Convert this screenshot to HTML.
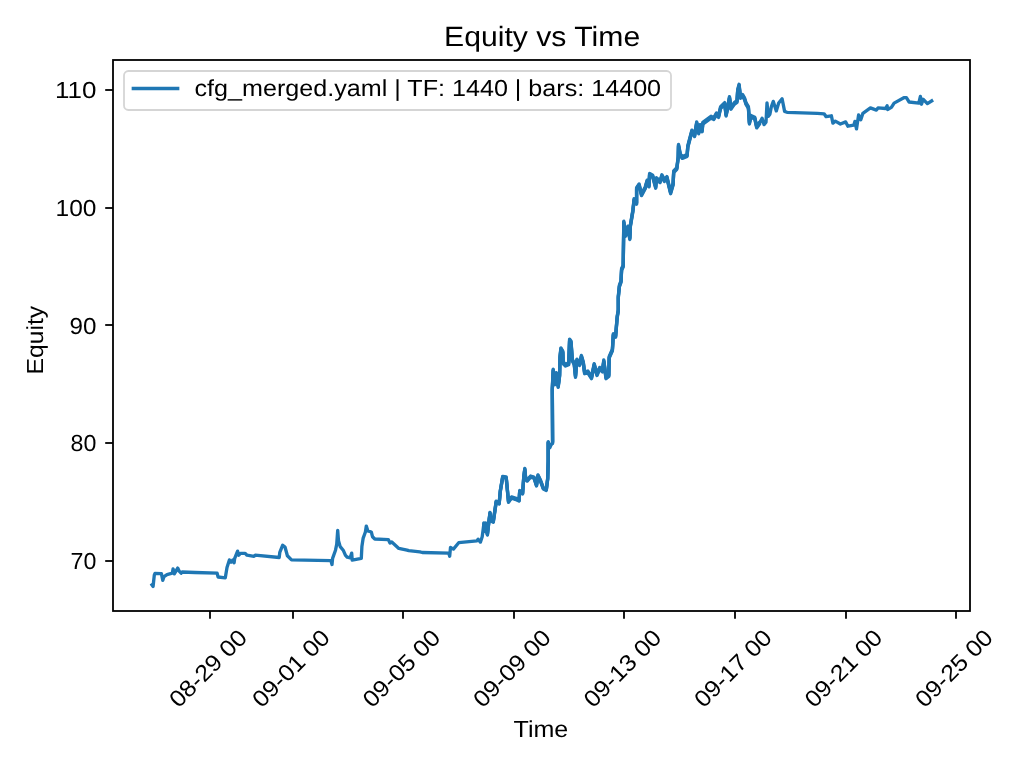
<!DOCTYPE html>
<html><head><meta charset="utf-8"><style>
html,body{margin:0;padding:0;background:#fff;width:1024px;height:768px;overflow:hidden}
svg{display:block}
text{font-family:"Liberation Sans", sans-serif;fill:#000;text-rendering:geometricPrecision}
svg{will-change:transform}
</style></head><body>
<svg width="1024" height="768" viewBox="0 0 1024 768">
<rect width="1024" height="768" fill="#fff"/>
<rect x="113" y="60" width="857" height="551" fill="none" stroke="#000" stroke-width="1.8" stroke-linejoin="miter"/>
<line x1="105.2" y1="90" x2="113" y2="90" stroke="#000" stroke-width="1.8"/>
<text x="96.4" y="98.1" text-anchor="end" font-size="23.2" textLength="41.4" lengthAdjust="spacingAndGlyphs">110</text>
<line x1="105.2" y1="208" x2="113" y2="208" stroke="#000" stroke-width="1.8"/>
<text x="96.4" y="215.9" text-anchor="end" font-size="23.2" textLength="40.85" lengthAdjust="spacingAndGlyphs">100</text>
<line x1="105.2" y1="325" x2="113" y2="325" stroke="#000" stroke-width="1.8"/>
<text x="96.4" y="333.6" text-anchor="end" font-size="23.2" textLength="26.9" lengthAdjust="spacingAndGlyphs">90</text>
<line x1="105.2" y1="443" x2="113" y2="443" stroke="#000" stroke-width="1.8"/>
<text x="96.4" y="451.40000000000003" text-anchor="end" font-size="23.2" textLength="25.8" lengthAdjust="spacingAndGlyphs">80</text>
<line x1="105.2" y1="561" x2="113" y2="561" stroke="#000" stroke-width="1.8"/>
<text x="96.4" y="569.1" text-anchor="end" font-size="23.2" textLength="25.8" lengthAdjust="spacingAndGlyphs">70</text>
<line x1="210" y1="611" x2="210" y2="618.8" stroke="#000" stroke-width="1.8"/>
<text x="0" y="0" text-anchor="middle" font-size="23.2" textLength="98.6" lengthAdjust="spacingAndGlyphs" transform="translate(207.90 668.25) rotate(-45) translate(0 8.1)">08-29 00</text>
<line x1="293" y1="611" x2="293" y2="618.8" stroke="#000" stroke-width="1.8"/>
<text x="0" y="0" text-anchor="middle" font-size="23.2" textLength="98.6" lengthAdjust="spacingAndGlyphs" transform="translate(290.80 668.25) rotate(-45) translate(0 8.1)">09-01 00</text>
<line x1="403" y1="611" x2="403" y2="618.8" stroke="#000" stroke-width="1.8"/>
<text x="0" y="0" text-anchor="middle" font-size="23.2" textLength="98.6" lengthAdjust="spacingAndGlyphs" transform="translate(401.30 668.25) rotate(-45) translate(0 8.1)">09-05 00</text>
<line x1="514" y1="611" x2="514" y2="618.8" stroke="#000" stroke-width="1.8"/>
<text x="0" y="0" text-anchor="middle" font-size="23.2" textLength="98.6" lengthAdjust="spacingAndGlyphs" transform="translate(511.80 668.25) rotate(-45) translate(0 8.1)">09-09 00</text>
<line x1="624" y1="611" x2="624" y2="618.8" stroke="#000" stroke-width="1.8"/>
<text x="0" y="0" text-anchor="middle" font-size="23.2" textLength="98.6" lengthAdjust="spacingAndGlyphs" transform="translate(622.30 668.25) rotate(-45) translate(0 8.1)">09-13 00</text>
<line x1="735" y1="611" x2="735" y2="618.8" stroke="#000" stroke-width="1.8"/>
<text x="0" y="0" text-anchor="middle" font-size="23.2" textLength="98.6" lengthAdjust="spacingAndGlyphs" transform="translate(732.80 668.25) rotate(-45) translate(0 8.1)">09-17 00</text>
<line x1="846" y1="611" x2="846" y2="618.8" stroke="#000" stroke-width="1.8"/>
<text x="0" y="0" text-anchor="middle" font-size="23.2" textLength="98.6" lengthAdjust="spacingAndGlyphs" transform="translate(843.30 668.25) rotate(-45) translate(0 8.1)">09-21 00</text>
<line x1="956" y1="611" x2="956" y2="618.8" stroke="#000" stroke-width="1.8"/>
<text x="0" y="0" text-anchor="middle" font-size="23.2" textLength="98.6" lengthAdjust="spacingAndGlyphs" transform="translate(953.80 668.25) rotate(-45) translate(0 8.1)">09-25 00</text>
<path d="M152.0 584.9 L153.1 586.4 L153.5 582.5 L154.3 575.1 L155.0 573.4 L161.4 573.7 L162.8 580.3 L164.0 576.6 L167.0 574.6 L172.3 573.2 L173.1 568.9 L174.3 573.9 L177.7 568.1 L179.2 571.2 L181.1 573.2 L182.1 572.0 L195.0 572.5 L217.1 573.1 L218.1 577.0 L225.3 577.8 L227.0 567.5 L229.4 559.9 L231.1 562.2 L232.9 559.9 L234.1 562.8 L234.6 558.7 L237.6 551.1 L238.8 555.2 L240.5 553.4 L245.2 553.4 L247.0 555.2 L254.0 556.4 L255.2 555.2 L279.2 557.5 L279.8 552.3 L282.7 545.2 L285.0 547.0 L287.4 555.8 L291.5 559.9 L330.9 560.6 L332.0 564.5 L332.6 558.4 L335.5 550.2 L336.7 544.3 L337.7 530.4 L338.5 540.8 L340.2 546.6 L343.2 550.2 L345.5 555.4 L347.3 557.2 L350.2 557.8 L351.7 553.1 L352.2 560.1 L361.3 558.4 L361.9 546.6 L363.1 538.4 L365.4 532.0 L366.3 526.1 L367.8 530.8 L371.3 532.0 L372.5 536.7 L374.8 539.0 L388.3 539.6 L390.0 543.1 L391.8 542.0 L398.8 548.4 L407.0 550.2 L408.8 550.7 L419.9 551.9 L422.3 552.5 L448.8 553.2 L449.7 556.2 L450.5 547.4 L453.4 549.1 L458.7 542.7 L476.9 540.9 L478.1 539.2 L480.4 542.1 L482.2 536.8 L483.9 523.6 L485.1 531.0 L485.7 523.6 L487.4 534.5 L488.6 523.9 L490.0 513.0 L491.0 520.4 L493.3 521.6 L496.2 501.7 L499.2 503.4 L500.3 491.1 L502.7 477.0 L506.2 477.6 L508.5 501.7 L511.5 497.5 L516.8 499.3 L519.1 500.5 L519.7 491.1 L522.6 493.4 L523.8 476.6 L524.8 469.1 L525.7 478.6 L527.2 480.5 L530.6 476.6 L534.0 477.6 L536.5 485.4 L538.0 475.5 L540.4 480.5 L543.3 488.4 L546.3 489.8 L547.7 478.6 L548.2 461.0 L548.2 442.3 L549.7 447.3 L552.6 442.5 L552.3 389.2 L553.2 370.0 L555.0 383.8 L556.4 373.6 L558.2 386.5 L559.6 375.6 L560.0 357.3 L560.9 348.7 L562.8 351.9 L563.2 362.8 L565.5 365.1 L568.7 363.7 L569.6 340.0 L571.0 341.8 L572.3 360.1 L574.2 363.7 L575.5 376.5 L576.9 360.1 L579.6 364.6 L581.4 356.3 L583.3 362.8 L584.6 372.8 L587.8 371.9 L591.5 377.8 L594.2 364.5 L597.0 374.6 L599.7 368.3 L602.4 371.0 L603.8 360.9 L606.0 377.8 L608.8 375.6 L609.2 357.3 L612.4 350.0 L613.3 334.6 L615.6 336.4 L616.1 330.3 L617.2 317.0 L618.3 310.4 L618.3 297.1 L619.4 286.0 L621.0 281.6 L621.6 269.4 L623.2 266.1 L623.8 222.1 L625.5 235.5 L627.9 227.0 L629.8 238.6 L630.4 225.6 L632.9 210.7 L634.1 199.6 L636.6 203.3 L636.6 188.5 L639.1 184.8 L641.5 194.7 L645.2 187.9 L647.1 181.1 L649.0 186.0 L649.6 174.3 L652.7 176.1 L655.7 187.3 L656.4 178.6 L660.1 181.7 L661.9 175.7 L664.4 180.5 L666.9 177.4 L670.6 192.8 L673.1 184.2 L673.7 171.8 L676.8 168.5 L678.2 157.5 L678.5 145.3 L680.3 154.8 L682.3 157.5 L687.1 155.5 L687.8 146.6 L691.9 131.0 L694.6 135.7 L696.7 122.8 L698.7 132.9 L700.1 125.5 L702.1 130.9 L702.8 123.3 L711.0 117.2 L713.8 118.6 L716.5 113.8 L718.6 116.5 L720.6 107.6 L724.7 103.5 L726.1 115.1 L728.1 105.6 L729.5 97.5 L730.9 108.3 L734.3 103.5 L737.0 101.5 L737.7 90.5 L739.1 85.2 L740.4 97.4 L742.5 95.3 L744.5 98.7 L746.0 103.6 L748.4 107.5 L749.4 123.1 L750.9 116.3 L754.8 118.2 L756.7 127.0 L759.6 123.1 L762.1 118.2 L764.0 124.6 L766.0 122.1 L767.0 102.9 L768.4 116.3 L769.9 114.3 L771.4 106.5 L773.3 101.4 L776.3 110.9 L778.7 103.1 L782.1 98.7 L784.6 111.4 L787.0 112.3 L817.3 113.3 L824.1 113.8 L826.1 116.7 L831.4 115.8 L832.9 123.1 L835.3 121.1 L840.4 124.0 L845.7 121.9 L847.9 126.2 L853.8 125.1 L854.9 121.4 L856.5 128.9 L858.6 114.9 L860.8 119.7 L862.9 113.3 L870.4 107.9 L876.4 110.1 L878.0 107.9 L885.5 108.5 L887.1 105.8 L887.6 109.5 L891.4 107.4 L894.1 103.1 L903.8 97.7 L906.4 97.7 L909.1 102.0 L918.8 103.1 L920.4 96.4 L921.5 104.2 L923.1 99.3 L927.4 103.6 L931.7 100.9" fill="none" stroke="#1f77b4" stroke-width="3.33" stroke-linejoin="round" stroke-linecap="square"/>
<path d="M483.9 524.2 L485.1 531.6 L485.7 524.2 L487.4 535.1 L488.6 524.5 L490.0 513.6 L491.0 521.0 L493.3 522.2 L496.2 502.3 L499.2 504.0 L500.3 491.7 L502.7 477.6 L506.2 478.2 L508.5 502.3 L511.5 498.1 L516.8 499.9 L519.1 501.1 L519.7 491.7 L522.6 494.0 L523.8 477.2 L524.8 469.7 L525.7 479.2 L527.2 481.1 L530.6 477.2 L534.0 478.2 L536.5 486.0 L538.0 476.1 L540.4 481.1 L543.3 489.0 L546.3 490.4 L547.7 479.2 L548.2 461.6 L548.2 442.9 L549.7 447.9" fill="none" stroke="#1f77b4" stroke-width="3.33" stroke-linejoin="round" stroke-linecap="round"/>
<path d="M483.9 523.0 L485.1 530.4 L485.7 523.0 L487.4 533.9 L488.6 523.3 L490.0 512.4 L491.0 519.8 L493.3 521.0 L496.2 501.1 L499.2 502.8 L500.3 490.5 L502.7 476.4 L506.2 477.0 L508.5 501.1 L511.5 496.9 L516.8 498.7 L519.1 499.9 L519.7 490.5 L522.6 492.8 L523.8 476.0 L524.8 468.5 L525.7 478.0 L527.2 479.9 L530.6 476.0 L534.0 477.0 L536.5 484.8 L538.0 474.9 L540.4 479.9 L543.3 487.8 L546.3 489.2 L547.7 478.0 L548.2 460.4 L548.2 441.7 L549.7 446.7" fill="none" stroke="#1f77b4" stroke-width="3.33" stroke-linejoin="round" stroke-linecap="round"/>
<path d="M552.6 443.4 L552.3 390.1 L553.2 370.9 L555.0 384.7 L556.4 374.5 L558.2 387.4 L559.6 376.5 L560.0 358.2 L560.9 349.6 L562.8 352.8 L563.2 363.7 L565.5 366.0 L568.7 364.6 L569.6 340.9 L571.0 342.7 L572.3 361.0 L574.2 364.6 L575.5 377.4 L576.9 361.0 L579.6 365.5 L581.4 357.2 L583.3 363.7 L584.6 373.7 L587.8 372.8 L591.5 378.7 L594.2 365.4 L597.0 375.5 L599.7 369.2 L602.4 371.9 L603.8 361.8 L606.0 378.7 L608.8 376.5 L609.2 358.2 L612.4 350.9 L613.3 335.5 L615.6 337.3 L616.1 331.2 L617.2 317.9 L618.3 311.3 L618.3 298.0 L619.4 286.9 L621.0 282.5 L621.6 270.3 L623.2 267.0 L623.8 223.0 L625.5 236.4 L627.9 227.9 L629.8 239.5 L630.4 226.5 L632.9 211.6 L634.1 200.5 L636.6 204.2 L636.6 189.4 L639.1 185.7 L641.5 195.6 L645.2 188.8 L647.1 182.0 L649.0 186.9 L649.6 175.2 L652.7 177.0 L655.7 188.2 L656.4 179.5 L660.1 182.6 L661.9 176.6 L664.4 181.4 L666.9 178.3 L670.6 193.7 L673.1 185.1 L673.7 172.7 L676.8 169.4 L678.2 158.4 L678.5 146.2 L680.3 155.7 L682.3 158.4 L687.1 156.4 L687.8 147.5 L691.9 131.9 L694.6 136.6 L696.7 123.7 L698.7 133.8 L700.1 126.4 L702.1 131.8 L702.8 124.2 L711.0 118.1 L713.8 119.5 L716.5 114.7 L718.6 117.4 L720.6 108.5 L724.7 104.4 L726.1 116.0 L728.1 106.5 L729.5 98.4 L730.9 109.2 L734.3 104.4 L737.0 102.4 L737.7 91.4 L739.1 86.1 L740.4 98.3 L742.5 96.2 L744.5 99.6 L746.0 104.5 L748.4 108.4 L749.4 124.0 L750.9 117.2 L754.8 119.1 L756.7 127.9 L759.6 124.0" fill="none" stroke="#1f77b4" stroke-width="3.33" stroke-linejoin="round" stroke-linecap="round"/>
<path d="M552.6 441.6 L552.3 388.3 L553.2 369.1 L555.0 382.9 L556.4 372.7 L558.2 385.6 L559.6 374.7 L560.0 356.4 L560.9 347.8 L562.8 351.0 L563.2 361.9 L565.5 364.2 L568.7 362.8 L569.6 339.1 L571.0 340.9 L572.3 359.2 L574.2 362.8 L575.5 375.6 L576.9 359.2 L579.6 363.7 L581.4 355.4 L583.3 361.9 L584.6 371.9 L587.8 371.0 L591.5 376.9 L594.2 363.6 L597.0 373.7 L599.7 367.4 L602.4 370.1 L603.8 360.0 L606.0 376.9 L608.8 374.7 L609.2 356.4 L612.4 349.1 L613.3 333.7 L615.6 335.5 L616.1 329.4 L617.2 316.1 L618.3 309.5 L618.3 296.2 L619.4 285.1 L621.0 280.7 L621.6 268.5 L623.2 265.2 L623.8 221.2 L625.5 234.6 L627.9 226.1 L629.8 237.7 L630.4 224.7 L632.9 209.8 L634.1 198.7 L636.6 202.4 L636.6 187.6 L639.1 183.9 L641.5 193.8 L645.2 187.0 L647.1 180.2 L649.0 185.1 L649.6 173.4 L652.7 175.2 L655.7 186.4 L656.4 177.7 L660.1 180.8 L661.9 174.8 L664.4 179.6 L666.9 176.5 L670.6 191.9 L673.1 183.3 L673.7 170.9 L676.8 167.6 L678.2 156.6 L678.5 144.4 L680.3 153.9 L682.3 156.6 L687.1 154.6 L687.8 145.7 L691.9 130.1 L694.6 134.8 L696.7 121.9 L698.7 132.0 L700.1 124.6 L702.1 130.0 L702.8 122.4 L711.0 116.3 L713.8 117.7 L716.5 112.9 L718.6 115.6 L720.6 106.7 L724.7 102.6 L726.1 114.2 L728.1 104.7 L729.5 96.6 L730.9 107.4 L734.3 102.6 L737.0 100.6 L737.7 89.6 L739.1 84.3 L740.4 96.5 L742.5 94.4 L744.5 97.8 L746.0 102.7 L748.4 106.6 L749.4 122.2 L750.9 115.4 L754.8 117.3 L756.7 126.1 L759.6 122.2" fill="none" stroke="#1f77b4" stroke-width="3.33" stroke-linejoin="round" stroke-linecap="round"/>
<rect x="124" y="71" width="547" height="39" rx="4.4" ry="4.4" fill="#fff" fill-opacity="0.8" stroke="#d5d5d5" stroke-width="1.8"/>
<line x1="133.4" y1="88.5" x2="177.6" y2="88.5" stroke="#1f77b4" stroke-width="3.5" stroke-linecap="square"/>
<text x="194.5" y="96.4" font-size="23.2" textLength="466.6" lengthAdjust="spacingAndGlyphs">cfg_merged.yaml | TF: 1440 | bars: 14400</text>
<text x="444.0" y="45.6" font-size="27.84" textLength="196.2" lengthAdjust="spacingAndGlyphs">Equity vs Time</text>
<text x="513.5" y="737.25" font-size="23.2" textLength="54.8" lengthAdjust="spacingAndGlyphs">Time</text>
<text x="0" y="0" font-size="23.2" textLength="68.7" lengthAdjust="spacingAndGlyphs" transform="translate(43.1 374.5) rotate(-90)">Equity</text>
</svg>
</body></html>
